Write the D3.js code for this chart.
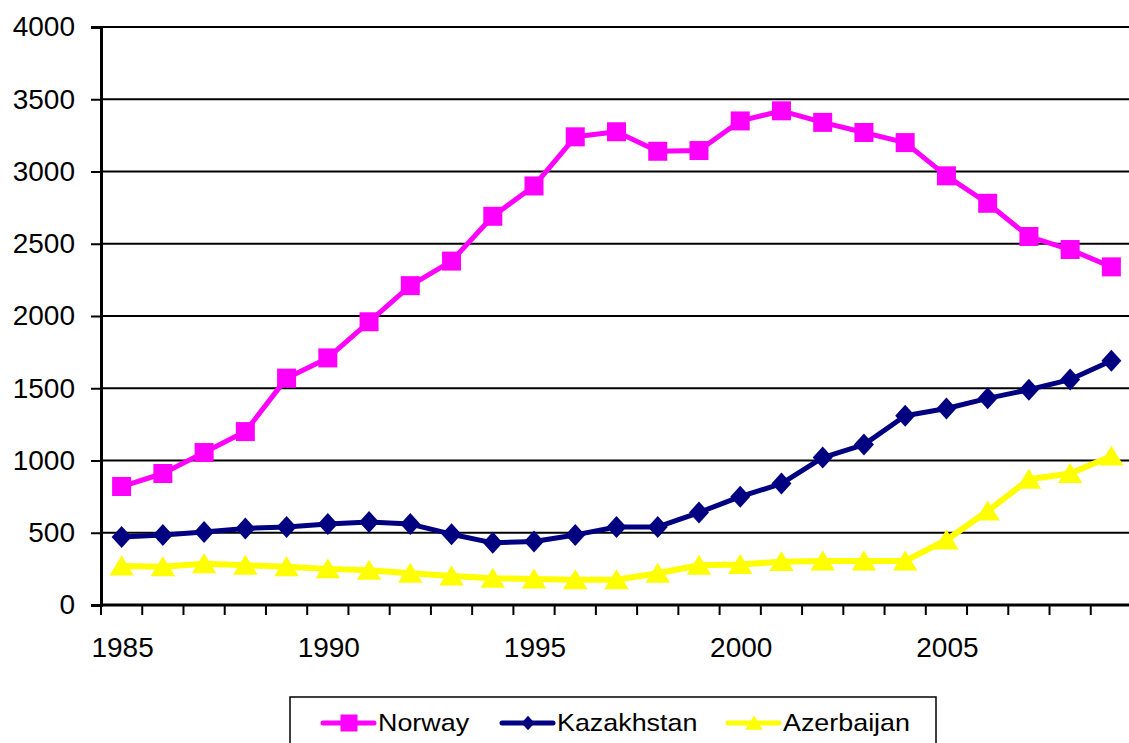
<!DOCTYPE html>
<html>
<head>
<meta charset="utf-8">
<script src="https://cdn.jsdelivr.net/npm/d3@7"></script>
<style>
  html, body { margin: 0; padding: 0; background: #fff; }
  svg { display: block; font-family: "Liberation Sans", Arial, sans-serif; }
</style>
</head>
<body>
<svg id="chart" width="1129" height="743"></svg>
<script>
// data
const years = d3.range(1985, 2010);
const norway = [820, 910, 1055, 1200, 1570, 1710, 1960, 2210, 2380, 2690, 2900, 3240, 3275, 3140, 3145,
  3350, 3420, 3340, 3270, 3200, 2970, 2780, 2550, 2460, 2340];
const kazakhstan = [470, 485, 505, 530, 540, 560, 575, 560, 490, 430, 440, 485, 540, 540, 640,
  750, 840, 1020, 1110, 1310, 1360, 1430, 1490, 1560, 1690];
const azerbaijan = [270, 265, 285, 275, 265, 250, 240, 220, 200, 185, 180, 175, 175, 220, 275,
  280, 300, 305, 305, 305, 450, 650, 870, 910, 1030];
const yTicks = d3.range(0, 4001, 500);
const xLabels = [1985, 1990, 1995, 2000, 2005];

const series = [
  { name: "Norway", values: norway, color: "#ff00ff", shape: "square" },
  { name: "Kazakhstan", values: kazakhstan, color: "#000080", shape: "diamond" },
  { name: "Azerbaijan", values: azerbaijan, color: "#ffff00", shape: "triangle" }
];

const svg = d3.select("#chart");
const plotL = 101, plotR = 1132, plotT = 27, plotB = 605;

const x = d3.scaleBand().domain(years).range([plotL, plotR]).padding(0);
const y = d3.scaleLinear().domain([0, 4000]).range([plotB, plotT]);
const cx = d => x(d) + x.bandwidth() / 2;

// gridlines
svg.append("g")
  .selectAll("line")
  .data(yTicks.filter(d => d > 0))
  .join("line")
  .attr("x1", plotL).attr("x2", plotR)
  .attr("y1", d => y(d)).attr("y2", d => y(d))
  .attr("stroke", "#000").attr("stroke-width", 2);

// y axis
const yAxis = svg.append("g")
  .attr("transform", `translate(${plotL},0)`)
  .call(d3.axisLeft(y).tickValues(yTicks).tickSize(10).tickPadding(16).tickFormat(d3.format("d")));
yAxis.select(".domain").attr("stroke-width", 3);
yAxis.selectAll(".tick line").attr("stroke-width", 2);
yAxis.selectAll("text").attr("font-size", 28).attr("fill", "#000")
  .attr("font-family", "Liberation Sans, Arial, sans-serif");

// x axis: ticks on category boundaries, labels at centers
svg.append("line")
  .attr("x1", plotL).attr("x2", plotR).attr("y1", plotB).attr("y2", plotB)
  .attr("stroke", "#000").attr("stroke-width", 3);
svg.append("g")
  .selectAll("line")
  .data(years)
  .join("line")
  .attr("x1", d => x(d)).attr("x2", d => x(d))
  .attr("y1", plotB).attr("y2", plotB + 10)
  .attr("stroke", "#000").attr("stroke-width", 2);
svg.append("g")
  .selectAll("text")
  .data(xLabels)
  .join("text")
  .attr("x", d => cx(d) + 1)
  .attr("y", 657)
  .attr("text-anchor", "middle")
  .attr("font-size", 28)
  .text(d => d);

// marker shapes
function marker(shape, s) {
  if (shape === "square") return `M${-s/2},${-s/2}h${s}v${s}h${-s}Z`;
  if (shape === "diamond") return `M0,${-s*0.55}L${s*0.5},0L0,${s*0.55}L${-s*0.5},0Z`;
  return `M0,${-s*0.5}L${s*0.58},${s*0.45}L${-s*0.58},${s*0.45}Z`;
}
const markerSize = { square: 19, diamond: 20, triangle: 21 };

const line = d3.line();
series.forEach(s => {
  const pts = s.values.map((v, i) => [cx(years[i]), y(v)]);
  const g = svg.append("g");
  g.append("path")
    .attr("d", line(pts))
    .attr("fill", "none")
    .attr("stroke", s.color)
    .attr("stroke-width", s.shape === "triangle" ? 6 : 5)
    .attr("stroke-linejoin", "round");
  g.selectAll("path.m")
    .data(pts)
    .join("path")
    .attr("class", "m")
    .attr("transform", d => `translate(${d[0]},${d[1]})`)
    .attr("d", marker(s.shape, markerSize[s.shape]))
    .attr("fill", s.color);
});

// legend
const legend = svg.append("g");
legend.append("rect")
  .attr("x", 290).attr("y", 697).attr("width", 646).attr("height", 60)
  .attr("fill", "#fff").attr("stroke", "#000").attr("stroke-width", 1.5);
const legendX = [323, 502, 728];
const legendSize = { square: 17, diamond: 13, triangle: 15 };
series.forEach((s, i) => {
  const lx = legendX[i], ly = 723;
  legend.append("line")
    .attr("x1", lx).attr("x2", lx + 51).attr("y1", ly).attr("y2", ly)
    .attr("stroke", s.color).attr("stroke-width", 5).attr("stroke-linecap", "round");
  legend.append("path")
    .attr("transform", `translate(${lx + 26},${ly})`)
    .attr("d", marker(s.shape, legendSize[s.shape]))
    .attr("fill", s.color);
  legend.append("text")
    .attr("transform", `translate(${lx + 55},731) scale(1.12,1)`)
    .attr("font-size", 24)
    .text(s.name);
});
</script>
</body>
</html>
